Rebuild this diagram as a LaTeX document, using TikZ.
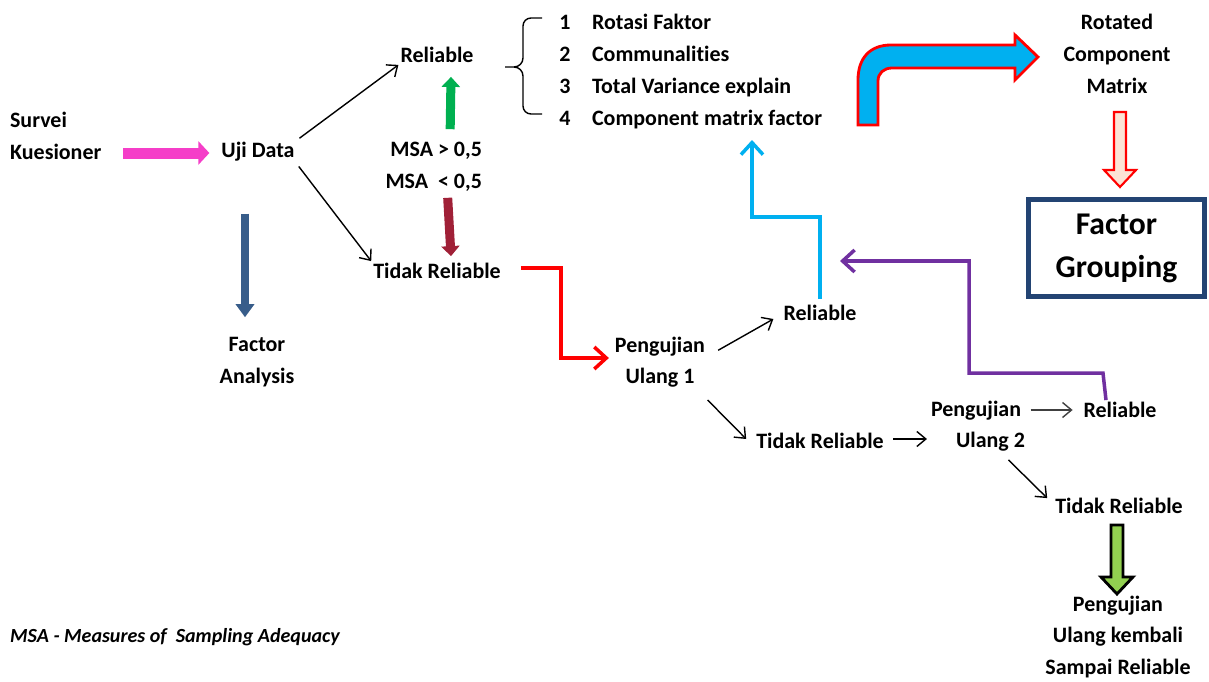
\documentclass[tikz,border=0pt]{standalone}
\usepackage{fontspec}
\setmainfont{Carlito}[Ligatures=NoCommon]
\usepackage{tikz}
\usetikzlibrary{arrows.meta, calc}
\usepackage{xcolor}
\definecolor{pinkarr}{RGB}{245,62,200}
\definecolor{steel}{RGB}{56,93,138}
\definecolor{msagreen}{RGB}{0,176,80}
\definecolor{msared}{RGB}{160,32,55}
\definecolor{skyblue}{RGB}{0,176,240}
\definecolor{purp}{RGB}{112,48,160}
\definecolor{navybox}{RGB}{35,68,115}
\definecolor{peach}{RGB}{252,228,214}
\definecolor{leaf}{RGB}{146,208,80}
\definecolor{graydark}{RGB}{64,64,64}
\tikzset{
    lbl/.style = {font=\fontsize{12.5}{18}\selectfont\bfseries, align=center, inner sep=1pt},
    conn/.style = {line width=0.8pt, -{Straight Barb[length=1.8mm, width=3mm]}, shorten <=2pt},
    barb/.style = {line width=2pt, -{Straight Barb[length=2.4mm, width=4.4mm]}}
}

\begin{document}
\begin{tikzpicture}[x=0.2mm, y=-0.2mm]
            \useasboundingbox (0,0) rectangle (1209,682);
            \node[lbl, anchor=west, align=left] (survei) at (8,136) {Survei\\Kuesioner};
            \node[lbl] (uji) at (258,152) {Uji Data};
            \node[lbl] (rel) at (437,55) {Reliable};
            \node[lbl, anchor=east] (msahi) at (484,151) {MSA > 0,5};
            \node[lbl, anchor=east] (msalo) at (484,183) {MSA\ \ < 0,5};
            \node[lbl] (tidak) at (437,271) {Tidak Reliable};
            \node[lbl] (fa) at (257,362) {Factor\\Analysis};
            \foreach \txt [count=\i] in {Rotasi Faktor, Communalities, Total Variance explain, Component matrix factor} {
                \node[lbl, anchor=base] (num\i) at (565,{29+32.3*(\i-1)}) {\i};
                \node[lbl, anchor=base west] (item\i) at (590,{29+32.3*(\i-1)}) {\txt};
            }
            \node[lbl] (rot) at (1117,54) {Rotated\\Component\\Matrix};
            \node[draw=navybox, line width=2.8pt, minimum width=35.2mm, minimum height=19.4mm,
                font=\fontsize{18}{24.4}\selectfont\bfseries, align=center] (fg) at (1116.5,248) {Factor\\Grouping};
            \node[lbl] (peng1) at (660,362) {Pengujian\\Ulang 1};
            \node[lbl] (rel1) at (820,313) {Reliable};
            \node[lbl] (tidak1) at (820,441) {Tidak Reliable};
            \node[lbl, align=left] (peng2) at (978,426) {Pengujian\\\hspace*{5mm}Ulang 2};
            \node[lbl] (rel2) at (1120,410) {Reliable};
            \node[lbl] (tidak2) at (1119,506) {Tidak Reliable};
            \node[lbl] (fin) at (1118,637) {Pengujian\\Ulang kembali\\Sampai Reliable};
            \node[font=\fontsize{11.4}{14}\selectfont\bfseries\itshape, anchor=west, inner sep=1pt] (note) at (8,637)
                {MSA - Measures of\ \ Sampling Adequacy};
            \coordinate (cyanend) at (752,140);
            \coordinate (purpend) at (840,261);

            \draw[pinkarr, line width=2.2mm, -{Triangle[length=2.2mm, width=4.6mm]}]
                ($(survei.east)+(20,17)$) -- ($(uji.west)+(-10,1)$);
            \draw[steel, line width=1.6mm, -{Triangle[length=2.6mm, width=3.6mm]}]
                ($(uji.south)+(-13,50)$) -- ($(fa.north)+(-12,-18)$);
            \draw[msagreen, line width=1.8mm, -{Triangle[length=2mm, width=3.6mm]}]
                ($(msahi.north)+(14,-11)$) -- ($(rel.south)+(14,12)$);
            \draw[msared, line width=1.8mm, -{Triangle[length=2mm, width=3.6mm]}]
                ($(msalo.south)+(14,4)$) -- ($(tidak.north)+(14,-5)$);
            \draw[conn] (uji.north east) -- (rel.south west);
            \draw[conn] (uji.south east) -- (tidak.north west);
            \draw[line width=0.8pt] (542,18) -- (531,18) to[out=180, in=90] (523,26) -- (523,58)
                to[out=-90, in=0] (514,67) -- (505,67) -- (514,67) to[out=0, in=90] (523,76)
                -- (523,106) to[out=-90, in=180] (531,114) -- (542,114);
            \draw[red, line width=1.6pt, fill=skyblue] (858,125) -- (858,80) .. controls (858,58) and (870,45) .. (891,45)
                -- (1015,45) -- (1015,35) -- (1038,57) -- (1015,80) -- (1015,68) -- (892,68)
                .. controls (884,68) and (878,73) .. (878,81) -- (878,125) -- cycle;
            \draw[red, line width=1.2pt, fill=peach] (1114,112) -- (1126,112) -- (1126,170) -- (1136,170)
                -- (1120,187) -- (1104,170) -- (1114,170) -- cycle;
            \draw[red, barb] ($(tidak.east)+(18,-3)$) -| ($(peng1.west)+(-52,-4)$) -- ($(peng1.west)+(-4,-4)$);
            \draw[conn] ($(peng1.east)+(8,-10)$) -- ($(rel1.west)+(-8,6)$);
            \draw[conn] ($(peng1.south east)+(-2,8)$) -- ($(tidak1.west)+(-8,-2)$);
            \draw[conn] ($(tidak1.east)+(4,-2)$) -- ($(tidak1.east -| peng2.west)+(-2,-2)$);
            \draw[conn, graydark, shorten >=5pt] (peng2.east |- rel2.west) -- (rel2.west);
            \draw[conn] ($(peng2.south)+(28,4)$) -- ($(tidak2.north west)+(-6,2)$);
            \draw[skyblue, barb] ($(rel1.north)+(0,-4)$) -- ++(0,-82) -| (cyanend);
            \draw[purp, barb] ($(rel2.north)+(-14,0)$) -- ++(-3,-27) -| ($(purpend)+(129,0)$) -- (purpend);
            \draw[line width=1.6pt, fill=leaf] (1111,525) -- (1123,525) -- (1123,577) -- (1133,577)
                -- (1117,594) -- (1101,577) -- (1111,577) -- cycle;
        \end{tikzpicture}
\end{document}
